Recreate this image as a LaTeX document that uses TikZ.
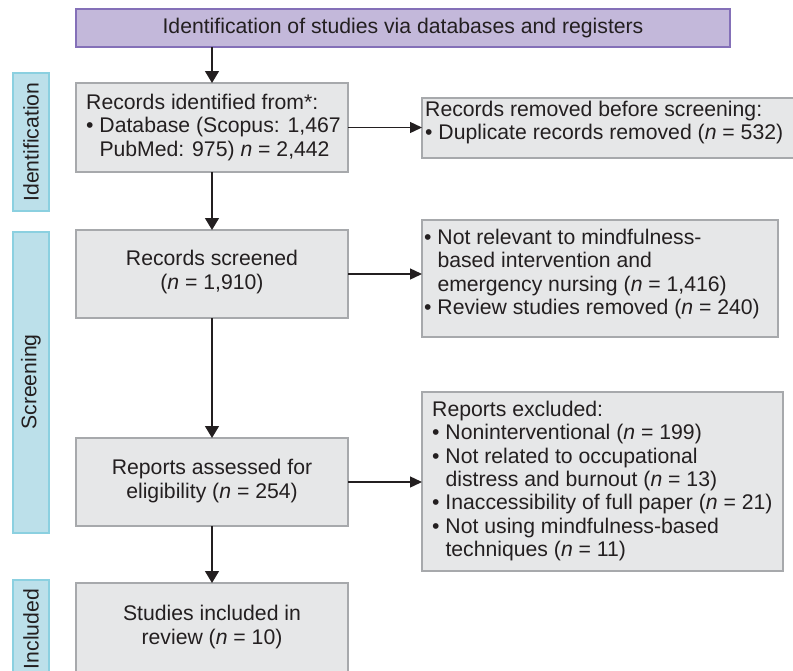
\documentclass[tikz,border=0pt]{standalone}
\usepackage{fontspec}
\setmainfont{Liberation Sans}
\usetikzlibrary{arrows.meta}
\definecolor{purplefill}{HTML}{C3B8DA}
\definecolor{purpleline}{HTML}{8470B8}
\definecolor{grayfill}{HTML}{E6E7E8}
\definecolor{grayline}{HTML}{A7A9AC}
\definecolor{sidefill}{HTML}{BCE0EA}
\definecolor{sideline}{HTML}{8BD0E0}
\definecolor{ink}{HTML}{231F20}
\newcommand{\nn}{\textit{n}}
\newcommand{\ind}{\phantom{•\ }}
\begin{document}
\begin{tikzpicture}[x=1pt,y=-1pt,
  txt/.style={font=\fontsize{21.2}{23.4}\selectfont, text=ink, inner sep=0pt},
  box/.style={draw=grayline, fill=grayfill, line width=1.6pt, inner sep=0pt, outer sep=0pt, anchor=north west},
  headbox/.style={draw=purpleline, fill=purplefill, line width=2pt, inner sep=0pt, outer sep=0pt, anchor=north west},
  sidebox/.style={draw=sideline, fill=sidefill, line width=2pt, inner sep=0pt, outer sep=0pt, anchor=north west},
  varr/.style={draw=ink, line width=1.4pt, -{Triangle[width=14pt,length=12pt]}},
  harr/.style={draw=ink, line width=1.4pt, -{Triangle[width=11pt,length=12pt]}}]
\useasboundingbox (0,0) rectangle (793,670);
\clip (0,0) rectangle (793,670);
% side labels
\node[sidebox, minimum width=36, minimum height=138] (sideid) at (13,73) {};
\node[sidebox, minimum width=36, minimum height=301] (sidescr) at (13,232) {};
\node[sidebox, minimum width=36, minimum height=110] (sideinc) at (13,580) {};
\node[txt, rotate=90] (sideidt) at (31,142) {Identification};
\node[txt, rotate=90] (sidescrt) at (31,382) {Screening};
\node[txt, rotate=90] (sideinct) at (31,629) {Included};
% header
\node[headbox, minimum width=654, minimum height=38] (head) at (76,9) {};
\node[txt] (headt) at (head.center) {Identification of studies via databases and registers};
% main column
\node[box, minimum width=272, minimum height=89] (rec) at (76,83) {};
\node[box, minimum width=272, minimum height=88] (scr) at (76,230) {};
\node[box, minimum width=272, minimum height=88] (asd) at (76,438) {};
\node[box, minimum width=272, minimum height=110] (inc) at (76,583) {};
\node[txt, anchor=west, align=left] (rect) at ([xshift=10pt]rec.west) {Records identified from*:\\• Database (Scopus: 1,467\\\ind PubMed: 975) \nn{} = 2,442};
\node[txt, align=center] (scrt) at ([yshift=2pt]scr.center) {Records screened\\(\nn{} = 1,910)};
\node[txt, align=center] (asdt) at ([yshift=1pt]asd.center) {Reports assessed for\\eligibility (\nn{} = 254)};
\node[txt, align=center] (inct) at (212,627) {Studies included in\\review (\nn{} = 10)};
% right column
\node[box, minimum width=390, minimum height=60] (rem) at (422,98) {};
\node[box, minimum width=356, minimum height=117] (nrel) at (422,220) {};
\node[box, minimum width=361, minimum height=179] (excl) at (422,392) {};
\node[txt, anchor=north west, align=left] (remt) at (425,101) {Records removed before screening:\\• Duplicate records removed (\nn{} = 532)};
\node[txt, anchor=north west, align=left] (nrelt) at (424,229) {• Not relevant to mindfulness-\\\ind based intervention and\\\ind emergency nursing (\nn{} = 1,416)\\• Review studies removed (\nn{} = 240)};
\node[txt, anchor=west, align=left] (exclt) at (432,481) {Reports excluded:\\• Noninterventional (\nn{} = 199)\\• Not related to occupational\\\ind distress and burnout (\nn{} = 13)\\• Inaccessibility of full paper (\nn{} = 21)\\• Not using mindfulness-based\\\ind techniques (\nn{} = 11)};
% connectors
\draw[varr] (head.south -| rec.north) -- (rec.north);
\draw[varr] (rec.south) -- (scr.north);
\draw[varr] (scr.south) -- (asd.north);
\draw[varr] (asd.south) -- (inc.north);
\draw[harr] (rec.east) -- (rem.west |- rec.east);
\draw[harr] (scr.east) -- (nrel.west |- scr.east);
\draw[harr] (asd.east) -- (excl.west |- asd.east);
\end{tikzpicture}
\end{document}
